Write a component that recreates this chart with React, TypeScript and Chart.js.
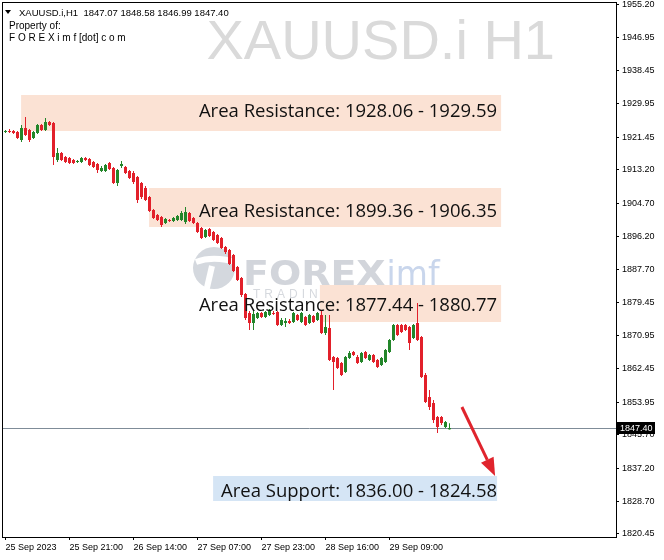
import React, { useEffect, useRef } from "react";
import { Chart, registerables } from "chart.js";

Chart.register(...registerables);

const symbolTitle = "XAUUSD.i,H1  1847.07 1848.58 1846.99 1847.40";
const watermarkText = "XAUUSD.i H1";
const headerLines = ["Property of:", "F O R E X i m f [dot] c o m"];
const lastPrice = 1847.4;
const lastPriceLabel = "1847.40";

const opens = [
  1922.82, 1923.07, 1923.07, 1922.82, 1920.78, 1923.84, 1923.33, 1921.29, 1922.56, 1924.6,
  1923.33, 1925.36, 1925.11, 1915.68, 1917.47, 1916.45, 1916.19, 1915.68, 1915.17, 1915.17,
  1916.19, 1915.94, 1915.17, 1914.66, 1912.88, 1912.88, 1914.92, 1913.64, 1909.82, 1914.15,
  1913.9, 1912.88, 1912.37, 1911.35, 1909.82, 1908.55, 1906.25, 1902.94, 1901.67, 1901.16,
  1899.63, 1900.39, 1900.14, 1900.39, 1900.39, 1899.88, 1902.18, 1900.9, 1899.63, 1898.36,
  1896.06, 1898.1, 1897.34, 1896.57, 1895.81, 1893.51, 1892.75, 1891.48, 1888.42, 1885.62,
  1881.54, 1876.7, 1874.15, 1875.42, 1876.7, 1875.68, 1876.19, 1876.7, 1876.95, 1873.64,
  1874.15, 1874.66, 1874.4, 1876.19, 1874.4, 1875.68, 1874.15, 1875.93, 1874.91, 1876.19,
  1871.6, 1872.88, 1865.49, 1865.23, 1863.96, 1861.66, 1865.23, 1866.76, 1865.49, 1864.21,
  1866.76, 1864.72, 1866.0, 1864.72, 1863.45, 1864.21, 1866.76, 1869.82, 1873.64, 1873.64,
  1873.64, 1873.13, 1870.33, 1874.15, 1870.58, 1860.9, 1855.29, 1853.77, 1850.2, 1850.2,
  1847.65, 1847.07,
];
const highs = [
  1923.33, 1923.58, 1923.33, 1923.07, 1924.6, 1926.64, 1923.58, 1923.07, 1924.85, 1924.85,
  1926.38, 1925.62, 1925.36, 1918.74, 1917.72, 1916.7, 1916.45, 1915.94, 1915.68, 1916.45,
  1916.45, 1916.19, 1915.43, 1914.92, 1914.15, 1914.66, 1915.17, 1913.9, 1913.39, 1915.43,
  1914.15, 1913.13, 1912.88, 1911.61, 1910.08, 1909.06, 1906.51, 1903.2, 1901.92, 1901.41,
  1900.9, 1900.65, 1901.16, 1901.67, 1902.69, 1903.71, 1902.43, 1901.16, 1899.88, 1898.61,
  1898.1, 1898.36, 1897.59, 1896.83, 1896.06, 1893.77, 1893.0, 1891.73, 1888.67, 1885.87,
  1881.79, 1877.21, 1877.46, 1876.95, 1876.95, 1877.21, 1877.72, 1877.21, 1877.21, 1875.42,
  1875.42, 1875.17, 1876.95, 1876.44, 1876.95, 1875.93, 1876.44, 1876.19, 1876.95, 1877.21,
  1876.19, 1876.19, 1865.74, 1865.49, 1864.21, 1865.74, 1867.02, 1867.02, 1866.0, 1866.76,
  1867.02, 1866.25, 1866.25, 1864.98, 1865.49, 1867.52, 1870.07, 1873.89, 1873.89, 1873.89,
  1873.89, 1873.39, 1873.89, 1879.25, 1870.84, 1861.41, 1857.08, 1854.53, 1850.45, 1850.45,
  1849.18, 1848.58,
];
const lows = [
  1922.56, 1922.56, 1922.31, 1921.03, 1920.27, 1921.8, 1920.27, 1921.03, 1922.31, 1923.07,
  1923.07, 1924.35, 1914.41, 1915.17, 1915.43, 1914.92, 1914.66, 1914.66, 1914.92, 1914.92,
  1915.43, 1914.15, 1913.64, 1912.37, 1912.62, 1912.62, 1913.13, 1909.57, 1909.06, 1913.64,
  1912.11, 1910.84, 1909.57, 1904.73, 1905.74, 1905.24, 1902.43, 1900.65, 1900.14, 1898.61,
  1899.37, 1899.88, 1899.88, 1900.14, 1900.14, 1899.37, 1899.88, 1899.37, 1897.08, 1895.55,
  1895.81, 1896.06, 1895.04, 1894.28, 1893.0, 1891.73, 1888.93, 1887.14, 1884.85, 1880.77,
  1874.91, 1872.37, 1872.37, 1875.17, 1875.42, 1875.42, 1875.93, 1876.19, 1873.39, 1873.39,
  1873.13, 1873.89, 1874.15, 1874.66, 1874.15, 1873.39, 1873.89, 1874.15, 1874.66, 1871.35,
  1871.09, 1864.47, 1857.08, 1862.43, 1860.65, 1861.41, 1864.98, 1865.74, 1863.7, 1863.96,
  1864.98, 1864.47, 1863.96, 1862.68, 1863.19, 1863.96, 1866.51, 1869.56, 1870.84, 1871.6,
  1872.11, 1867.27, 1870.07, 1869.56, 1860.14, 1853.77, 1851.98, 1848.67, 1846.12, 1848.16,
  1847.4, 1846.99,
];
const closes = [
  1923.07, 1922.82, 1922.56, 1921.29, 1923.84, 1922.05, 1920.78, 1922.82, 1924.6, 1923.33,
  1925.36, 1924.6, 1916.45, 1917.47, 1915.68, 1915.17, 1914.92, 1914.92, 1915.43, 1916.19,
  1915.68, 1914.41, 1913.9, 1913.13, 1913.64, 1914.41, 1913.39, 1909.82, 1913.13, 1914.66,
  1912.37, 1911.1, 1910.08, 1905.49, 1906.25, 1905.49, 1902.69, 1900.9, 1900.39, 1899.12,
  1900.65, 1900.14, 1900.9, 1901.41, 1902.18, 1902.43, 1900.14, 1899.63, 1897.34, 1895.81,
  1897.85, 1896.32, 1895.3, 1894.53, 1893.26, 1892.24, 1889.18, 1887.4, 1885.11, 1881.28,
  1875.42, 1874.15, 1876.44, 1876.7, 1875.68, 1876.95, 1877.46, 1876.44, 1873.64, 1874.91,
  1874.66, 1874.15, 1876.7, 1874.91, 1876.7, 1873.64, 1876.19, 1874.4, 1876.7, 1871.6,
  1873.13, 1864.72, 1864.21, 1862.68, 1860.9, 1865.49, 1866.51, 1866.0, 1863.96, 1866.51,
  1865.23, 1866.0, 1864.21, 1862.94, 1865.23, 1867.27, 1869.82, 1873.64, 1871.09, 1871.86,
  1872.37, 1869.05, 1873.64, 1869.82, 1860.39, 1854.02, 1852.75, 1849.43, 1847.65, 1848.67,
  1848.92, 1847.4,
];

const xTickIndex = [0, 16, 32, 48, 64, 80, 96];
const xTickLabels = [
  "25 Sep 2023",
  "25 Sep 21:00",
  "26 Sep 14:00",
  "27 Sep 07:00",
  "27 Sep 23:00",
  "28 Sep 16:00",
  "29 Sep 09:00",
];
const yTickValues = [
  1955.2, 1946.95, 1938.45, 1929.95, 1921.45, 1913.2, 1904.7, 1896.2, 1887.7,
  1879.45, 1870.95, 1862.45, 1853.95, 1845.7, 1837.2, 1828.7, 1820.45,
];

const zoneLabels = [
  "Area Resistance: 1928.06 - 1929.59",
  "Area Resistance: 1899.36 - 1906.35",
  "Area Resistance: 1877.44 - 1880.77",
  "Area Support: 1836.00 - 1824.58",
];
const zoneIsSupport = [false, false, false, true];
const zoneStart = [3.9, 35.9, 78.6, 51.9];
const zoneEnd = [123.9, 123.9, 123.9, 122.9];
const zoneTop = [1932.24, 1908.55, 1883.83, 1835.17];
const zoneBottom = [1923.07, 1898.61, 1874.4, 1828.8];
const zoneTextX = [122.9, 122.9, 122.9, 122.9];
const zoneTextY = [1926.64, 1901.16, 1877.21, 1829.81];

const arrowFrom = { x: 114.1, y: 1852.75 };
const arrowTo = { x: 122.4, y: 1835.17 };

const X_MIN = -0.625;
const X_MAX = 152.625;
const Y_MIN = 1819.63;
const Y_MAX = 1955.68;

const BULL = "#23862a";
const BEAR = "#e2202a";

const overlayPlugin = {
  id: "overlay",
  beforeDatasetsDraw(chart: any) {
    const { ctx, chartArea: ca, scales } = chart;
    const xs = scales.x;
    const ys = scales.y;
    ctx.save();
    ctx.beginPath();
    ctx.rect(ca.left, ca.top, ca.right - ca.left, ca.bottom - ca.top);
    ctx.clip();

    // big symbol watermark
    ctx.fillStyle = "#dadada";
    ctx.font = "56px 'Liberation Sans'";
    ctx.textAlign = "right";
    ctx.textBaseline = "alphabetic";
    ctx.fillText(watermarkText, 555, 59);

    // logo watermark
    ctx.fillStyle = "#d4d8de";
    ctx.beginPath();
    ctx.arc(214, 268, 21, 0, Math.PI * 2);
    ctx.fill();
    ctx.strokeStyle = "#ffffff";
    ctx.lineWidth = 6;
    ctx.beginPath();
    ctx.moveTo(196, 262);
    ctx.quadraticCurveTo(214, 255, 238, 263);
    ctx.stroke();
    ctx.beginPath();
    ctx.moveTo(212, 266);
    ctx.lineTo(206, 292);
    ctx.stroke();

    ctx.textAlign = "left";
    ctx.font = "bold 33px 'DejaVu Sans'";
    const fw = ctx.measureText("FOREX").width * 1.15;
    ctx.save();
    ctx.translate(243, 285);
    ctx.scale(1.15, 1);
    ctx.fillStyle = "#d2d5db";
    ctx.fillText("FOREX", 0, 0);
    ctx.restore();
    ctx.fillStyle = "#c9d6ec";
    ctx.font = "33px 'DejaVu Sans'";
    ctx.fillText("imf", 243 + fw + 1, 285);
    ctx.fillStyle = "#d6d9de";
    ctx.font = "12px 'Liberation Sans'";
    (ctx as any).letterSpacing = "4px";
    ctx.fillText("TRADING  LIFESTYLE", 253, 298);
    (ctx as any).letterSpacing = "0px";

    // zones
    for (let k = 0; k < zoneLabels.length; k++) {
      const x0 = xs.getPixelForValue(zoneStart[k]);
      const x1 = xs.getPixelForValue(zoneEnd[k]);
      const y0 = ys.getPixelForValue(zoneTop[k]);
      const y1 = ys.getPixelForValue(zoneBottom[k]);
      ctx.fillStyle = zoneIsSupport[k] ? "#d5e5f5" : "#fbe2d4";
      ctx.fillRect(x0, y0, x1 - x0, y1 - y0);
    }

    // current price line
    const py = Math.round(ys.getPixelForValue(lastPrice)) + 0.5;
    ctx.strokeStyle = "#7f8c98";
    ctx.lineWidth = 1;
    ctx.beginPath();
    ctx.moveTo(ca.left, py);
    ctx.lineTo(ca.right, py);
    ctx.stroke();
    ctx.restore();
  },
  afterDatasetsDraw(chart: any) {
    const { ctx, chartArea: ca, scales } = chart;
    const xs = scales.x;
    const ys = scales.y;
    ctx.save();
    ctx.beginPath();
    ctx.rect(ca.left, ca.top, ca.right - ca.left, ca.bottom - ca.top);
    ctx.clip();

    // zone labels
    ctx.fillStyle = "#111111";
    ctx.font = "18.5px 'Open Sans'";
    ctx.textAlign = "right";
    ctx.textBaseline = "alphabetic";
    for (let k = 0; k < zoneLabels.length; k++) {
      ctx.fillText(zoneLabels[k], xs.getPixelForValue(zoneTextX[k]), ys.getPixelForValue(zoneTextY[k]));
    }

    // arrow
    const ax0 = xs.getPixelForValue(arrowFrom.x);
    const ay0 = ys.getPixelForValue(arrowFrom.y);
    const ax1 = xs.getPixelForValue(arrowTo.x);
    const ay1 = ys.getPixelForValue(arrowTo.y);
    const ang = Math.atan2(ay1 - ay0, ax1 - ax0);
    const headLen = 18;
    const headW = 7;
    const bx = ax1 - headLen * Math.cos(ang);
    const by = ay1 - headLen * Math.sin(ang);
    ctx.strokeStyle = "#e0242d";
    ctx.fillStyle = "#e0242d";
    ctx.lineWidth = 3;
    ctx.beginPath();
    ctx.moveTo(ax0, ay0);
    ctx.lineTo(bx, by);
    ctx.stroke();
    ctx.beginPath();
    ctx.moveTo(ax1, ay1);
    ctx.lineTo(bx + headW * Math.sin(ang), by - headW * Math.cos(ang));
    ctx.lineTo(bx - headW * Math.sin(ang), by + headW * Math.cos(ang));
    ctx.closePath();
    ctx.fill();

    // header
    ctx.fillStyle = "#000000";
    ctx.textAlign = "left";
    ctx.font = "9.5px 'Liberation Sans'";
    ctx.beginPath();
    ctx.moveTo(5, 10);
    ctx.lineTo(11, 10);
    ctx.lineTo(8, 14);
    ctx.closePath();
    ctx.fill();
    ctx.fillText(symbolTitle, 19, 15.5);
    ctx.font = "10px 'Liberation Sans'";
    ctx.fillText(headerLines[0], 9, 29);
    ctx.fillText(headerLines[1], 9, 41);
    ctx.restore();
  },
  afterDraw(chart: any) {
    const { ctx, chartArea: ca, scales } = chart;
    const ys = scales.y;
    ctx.save();
    ctx.strokeStyle = "#000000";
    ctx.lineWidth = 1;
    ctx.strokeRect(ca.left - 0.5, ca.top - 0.5, ca.right - ca.left + 1, ca.bottom - ca.top + 1);

    const py = Math.round(ys.getPixelForValue(lastPrice));
    ctx.fillStyle = "#000000";
    ctx.fillRect(ca.right + 1, py - 6, 38, 12);
    ctx.fillStyle = "#ffffff";
    ctx.font = "9px 'Liberation Sans'";
    ctx.textAlign = "left";
    ctx.textBaseline = "middle";
    ctx.fillText(lastPriceLabel, ca.right + 4, py + 0.5);
    ctx.restore();
  },
};

export default function App() {
  const ref = useRef<HTMLCanvasElement | null>(null);

  useEffect(() => {
    document.body.style.margin = "0";
    document.body.style.background = "#ffffff";
    const canvas = ref.current;
    if (!canvas) return;

    const wickData = lows.map((l, i) => ({ x: i, y: [l, highs[i]] }));
    const bodyData = opens.map((o, i) => ({ x: i, y: [o, closes[i]] }));
    const colors = opens.map((o, i) => (closes[i] >= o ? BULL : BEAR));

    const chart = new Chart(canvas, {
      type: "bar",
      data: {
        datasets: [
          {
            data: wickData as any,
            backgroundColor: colors,
            barThickness: 1,
            borderWidth: 0,
            inflateAmount: 0,
            grouped: false,
          } as any,
          {
            data: bodyData as any,
            backgroundColor: colors,
            barThickness: 3,
            borderWidth: 0,
            minBarLength: 1,
            inflateAmount: 0,
            grouped: false,
          } as any,
        ],
      },
      options: {
        responsive: false,
        animation: false,
        devicePixelRatio: 1,
        events: [],
        layout: { padding: { left: 3, top: 3, right: 0, bottom: 0 } },
        plugins: {
          legend: { display: false },
          tooltip: { enabled: false },
        },
        scales: {
          x: {
            type: "linear",
            min: X_MIN,
            max: X_MAX,
            offset: false,
            grid: {
              offset: false,
              drawOnChartArea: false,
              drawTicks: true,
              tickLength: 3,
              color: "#000000",
            },
            border: { display: false },
            afterBuildTicks: (scale: any) => {
              scale.ticks = xTickIndex.map((v) => ({ value: v }));
            },
            afterFit: (scale: any) => {
              scale.height = 23;
              scale.paddingLeft = 0;
              scale.paddingRight = 0;
            },
            ticks: {
              autoSkip: false,
              maxRotation: 0,
              minRotation: 0,
              align: "start",
              padding: 2,
              color: "#000000",
              font: { family: "'Liberation Sans'", size: 9 },
              callback: (_v: any, idx: number) => xTickLabels[idx],
            },
          },
          y: {
            type: "linear",
            position: "right",
            min: Y_MIN,
            max: Y_MAX,
            grid: {
              drawOnChartArea: false,
              drawTicks: true,
              tickLength: 3,
              color: "#000000",
            },
            border: { display: false },
            afterBuildTicks: (scale: any) => {
              scale.ticks = yTickValues.map((v) => ({ value: v }));
            },
            afterFit: (scale: any) => {
              scale.width = 48;
              scale.paddingTop = 0;
              scale.paddingBottom = 0;
            },
            ticks: {
              autoSkip: false,
              padding: 3,
              color: "#000000",
              font: { family: "'Liberation Sans'", size: 9 },
              callback: (v: any) => Number(v).toFixed(2),
            },
          },
        },
      } as any,
      plugins: [overlayPlugin],
    });

    return () => chart.destroy();
  }, []);

  return (
    <div style={{ width: 664, height: 560, background: "#ffffff" }}>
      <canvas ref={ref} width={664} height={560} style={{ display: "block", width: 664, height: 560 }} />
    </div>
  );
}
